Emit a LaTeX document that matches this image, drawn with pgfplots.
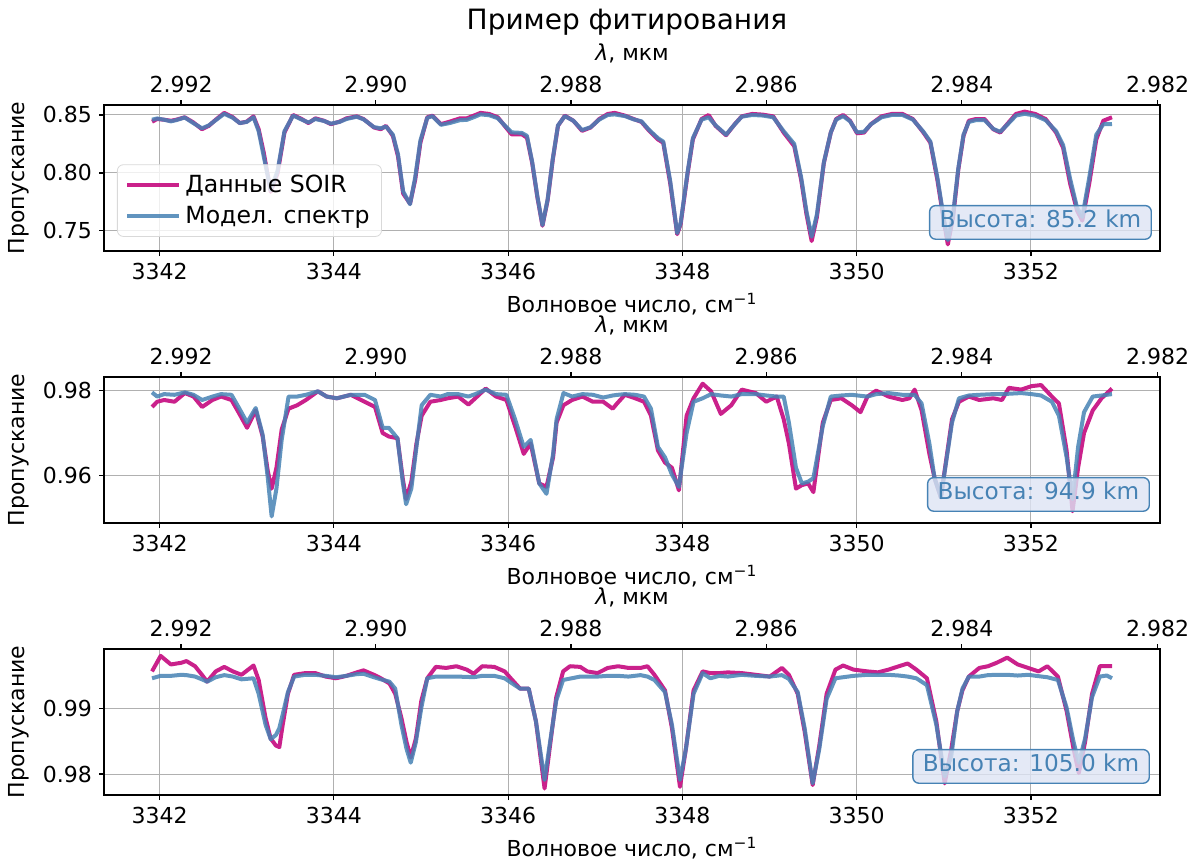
\documentclass[border=0pt]{standalone}
\usepackage{fontspec}
\setmainfont{DejaVu Sans}
\usepackage{pgfplots}
\usepackage{pgfplotstable}
\pgfplotsset{compat=1.18}
\definecolor{dataC}{HTML}{C71585}
\definecolor{modelC}{HTML}{4682B4}
\definecolor{boxfill}{HTML}{DDE4F4}
\definecolor{gridC}{RGB}{176,176,176}

\pgfplotstableread{
nu d m
3341.913 0.8442 0.8459
3341.972 0.8465 0.8470
3342.051 0.8459 0.8459
3342.130 0.8450 0.8445
3342.190 0.8459 0.8455
3342.288 0.8480 0.8478
3342.387 0.8436 0.8430
3342.486 0.8377 0.8385
3342.565 0.8406 0.8410
3342.644 0.8459 0.8455
3342.742 0.8518 0.8510
3342.841 0.8480 0.8475
3342.920 0.8430 0.8430
3342.999 0.8442 0.8440
3343.078 0.8488 0.8480
3343.137 0.8377 0.8360
3343.196 0.8173 0.8140
3343.275 0.7837 0.7850
3343.354 0.7997 0.8020
3343.433 0.8348 0.8360
3343.532 0.8500 0.8495
3343.631 0.8465 0.8460
3343.709 0.8430 0.8435
3343.788 0.8471 0.8465
3343.887 0.8450 0.8448
3343.966 0.8421 0.8425
3344.065 0.8442 0.8440
3344.144 0.8471 0.8465
3344.262 0.8488 0.8485
3344.341 0.8465 0.8462
3344.460 0.8392 0.8395
3344.539 0.8377 0.8385
3344.598 0.8406 0.8400
3344.677 0.8319 0.8330
3344.736 0.8143 0.8160
3344.795 0.7822 0.7840
3344.874 0.7734 0.7730
3344.933 0.7939 0.7960
3344.993 0.8260 0.8280
3345.072 0.8480 0.8475
3345.131 0.8494 0.8490
3345.229 0.8421 0.8415
3345.328 0.8442 0.8430
3345.447 0.8471 0.8455
3345.526 0.8471 0.8458
3345.604 0.8494 0.8480
3345.683 0.8518 0.8505
3345.782 0.8509 0.8498
3345.881 0.8480 0.8472
3345.960 0.8406 0.8410
3346.039 0.8333 0.8350
3346.157 0.8333 0.8345
3346.216 0.8304 0.8320
3346.276 0.8085 0.8095
3346.335 0.7792 0.7800
3346.394 0.7544 0.7550
3346.453 0.7763 0.7770
3346.512 0.8114 0.8120
3346.572 0.8406 0.8410
3346.651 0.8494 0.8490
3346.749 0.8450 0.8450
3346.848 0.8363 0.8370
3346.947 0.8392 0.8395
3347.045 0.8465 0.8460
3347.144 0.8509 0.8500
3347.223 0.8518 0.8505
3347.342 0.8494 0.8490
3347.440 0.8465 0.8462
3347.530 0.8440 0.8445
3347.619 0.8363 0.8370
3347.719 0.8289 0.8300
3347.780 0.8260 0.8270
3347.860 0.7909 0.7930
3347.940 0.7471 0.7480
3347.980 0.7558 0.7570
3348.060 0.7997 0.8010
3348.120 0.8289 0.8300
3348.220 0.8465 0.8460
3348.301 0.8500 0.8480
3348.381 0.8406 0.8410
3348.501 0.8325 0.8330
3348.601 0.8421 0.8420
3348.681 0.8488 0.8485
3348.802 0.8509 0.8500
3348.922 0.8503 0.8495
3349.042 0.8488 0.8480
3349.162 0.8348 0.8360
3349.283 0.8231 0.8250
3349.363 0.7939 0.7960
3349.423 0.7646 0.7670
3349.483 0.7412 0.7450
3349.543 0.7617 0.7640
3349.623 0.8085 0.8090
3349.703 0.8348 0.8350
3349.764 0.8465 0.8460
3349.844 0.8500 0.8490
3349.924 0.8450 0.8445
3350.004 0.8342 0.8350
3350.084 0.8348 0.8355
3350.164 0.8421 0.8420
3350.285 0.8488 0.8480
3350.405 0.8509 0.8500
3350.525 0.8509 0.8500
3350.645 0.8465 0.8460
3350.766 0.8348 0.8355
3350.846 0.8260 0.8270
3350.926 0.7939 0.7960
3351.006 0.7558 0.7580
3351.046 0.7383 0.7420
3351.106 0.7617 0.7640
3351.166 0.8026 0.8040
3351.226 0.8319 0.8330
3351.287 0.8450 0.8440
3351.367 0.8465 0.8455
3351.467 0.8465 0.8455
3351.567 0.8377 0.8380
3351.647 0.8348 0.8355
3351.727 0.8421 0.8415
3351.828 0.8509 0.8495
3351.928 0.8529 0.8510
3352.048 0.8509 0.8495
3352.168 0.8465 0.8455
3352.289 0.8348 0.8360
3352.369 0.8216 0.8240
3352.449 0.7909 0.7950
3352.529 0.7675 0.7700
3352.589 0.7588 0.7620
3352.669 0.7909 0.7960
3352.750 0.8289 0.8330
3352.830 0.8450 0.8420
3352.930 0.8480 0.8421
}\panelA

\pgfplotstableread{
nu d m
3341.913 0.97616 0.97959
3341.972 0.97739 0.97861
3342.052 0.97780 0.97918
3342.171 0.97739 0.97902
3342.290 0.97943 0.97959
3342.389 0.97861 0.97902
3342.488 0.97616 0.97780
3342.607 0.97780 0.97861
3342.706 0.97861 0.97918
3342.825 0.97780 0.97902
3342.905 0.97494 0.97616
3343.004 0.97127 0.97249
3343.103 0.97535 0.97592
3343.183 0.96922 0.96963
3343.242 0.96106 0.95943
3343.286 0.95698 0.95045
3343.341 0.96188 0.95698
3343.401 0.97086 0.96841
3343.480 0.97576 0.97861
3343.579 0.97657 0.97861
3343.679 0.97780 0.97902
3343.817 0.97984 0.97984
3343.917 0.97861 0.97861
3344.036 0.97820 0.97820
3344.194 0.97902 0.97902
3344.353 0.97739 0.97902
3344.472 0.97616 0.97780
3344.560 0.97004 0.97127
3344.631 0.96922 0.97127
3344.730 0.96882 0.96882
3344.790 0.95943 0.95861
3344.829 0.95453 0.95331
3344.889 0.95861 0.95698
3344.948 0.96759 0.96678
3345.008 0.97412 0.97657
3345.107 0.97739 0.97902
3345.226 0.97780 0.97861
3345.306 0.97820 0.97918
3345.425 0.97861 0.97918
3345.544 0.97673 0.97861
3345.623 0.97820 0.97918
3345.742 0.98049 0.98024
3345.861 0.97861 0.97918
3345.980 0.97780 0.97902
3346.079 0.97167 0.97331
3346.179 0.96514 0.96678
3346.258 0.96759 0.96841
3346.357 0.95820 0.95820
3346.440 0.95739 0.95576
3346.516 0.96433 0.96514
3346.556 0.97249 0.97331
3346.635 0.97657 0.97943
3346.734 0.97780 0.97861
3346.853 0.97861 0.97918
3346.972 0.97739 0.97902
3347.091 0.97739 0.97837
3347.200 0.97576 0.97886
3347.250 0.97698 0.97900
3347.340 0.97902 0.97918
3347.458 0.97820 0.97902
3347.559 0.97739 0.97861
3347.639 0.97412 0.97576
3347.719 0.96596 0.96678
3347.800 0.96310 0.96433
3347.880 0.96188 0.96025
3347.960 0.95657 0.95739
3348.048 0.97412 0.97004
3348.128 0.97820 0.97739
3348.232 0.98163 0.97820
3348.329 0.97984 0.97918
3348.441 0.97453 0.97886
3348.561 0.97657 0.97861
3348.681 0.98024 0.97918
3348.842 0.97943 0.97918
3348.962 0.97739 0.97886
3349.082 0.97861 0.97861
3349.162 0.97331 0.97861
3349.222 0.96759 0.97249
3349.303 0.95698 0.96188
3349.371 0.95780 0.95820
3349.443 0.95820 0.95861
3349.503 0.95616 0.95943
3349.611 0.97249 0.97167
3349.703 0.97780 0.97861
3349.824 0.97820 0.97886
3349.944 0.97657 0.97902
3350.044 0.97494 0.97878
3350.124 0.97861 0.97861
3350.224 0.98000 0.97918
3350.365 0.97861 0.97943
3350.525 0.97780 0.97902
3350.605 0.97820 0.97902
3350.665 0.98024 0.97902
3350.745 0.97535 0.97698
3350.834 0.96514 0.96759
3350.894 0.95943 0.95943
3350.966 0.95494 0.95494
3351.094 0.97331 0.97249
3351.174 0.97739 0.97820
3351.287 0.97861 0.97886
3351.407 0.97780 0.97902
3351.567 0.97820 0.97918
3351.667 0.97780 0.97918
3351.747 0.98065 0.97927
3351.888 0.98024 0.97943
3352.008 0.98106 0.97918
3352.116 0.98131 0.97886
3352.240 0.97861 0.97739
3352.321 0.97698 0.97412
3352.409 0.96596 0.96433
3352.477 0.95167 0.95453
3352.541 0.96188 0.96678
3352.609 0.97004 0.97494
3352.709 0.97535 0.97861
3352.810 0.97820 0.97886
3352.930 0.98049 0.97918
}\panelB

\pgfplotstableread{
nu d m
3341.913 0.99568 0.99463
3342.012 0.99805 0.99500
3342.130 0.99674 0.99500
3342.249 0.99700 0.99516
3342.308 0.99726 0.99511
3342.407 0.99647 0.99489
3342.486 0.99516 0.99447
3342.545 0.99411 0.99411
3342.644 0.99568 0.99479
3342.742 0.99637 0.99511
3342.841 0.99568 0.99489
3342.940 0.99516 0.99447
3343.078 0.99658 0.99463
3343.137 0.99437 0.99226
3343.216 0.98858 0.98753
3343.275 0.98542 0.98532
3343.334 0.98437 0.98595
3343.374 0.98411 0.98700
3343.413 0.98753 0.98911
3343.473 0.99226 0.99253
3343.544 0.99516 0.99489
3343.670 0.99542 0.99516
3343.788 0.99542 0.99516
3343.907 0.99489 0.99500
3344.025 0.99463 0.99479
3344.144 0.99500 0.99500
3344.262 0.99553 0.99526
3344.341 0.99584 0.99532
3344.460 0.99516 0.99479
3344.539 0.99463 0.99447
3344.638 0.99384 0.99411
3344.704 0.99226 0.99305
3344.775 0.98858 0.98753
3344.834 0.98489 0.98384
3344.882 0.98253 0.98174
3344.941 0.98542 0.98489
3345.004 0.99121 0.99016
3345.072 0.99463 0.99463
3345.170 0.99637 0.99489
3345.289 0.99621 0.99489
3345.407 0.99647 0.99489
3345.526 0.99595 0.99484
3345.604 0.99532 0.99479
3345.703 0.99647 0.99500
3345.841 0.99637 0.99500
3345.960 0.99568 0.99463
3346.047 0.99437 0.99384
3346.137 0.99305 0.99305
3346.236 0.99305 0.99305
3346.319 0.98805 0.98805
3346.418 0.97779 0.97911
3346.481 0.98437 0.98489
3346.552 0.99174 0.99121
3346.631 0.99568 0.99437
3346.710 0.99647 0.99458
3346.828 0.99637 0.99489
3346.907 0.99568 0.99489
3347.026 0.99542 0.99489
3347.144 0.99621 0.99500
3347.263 0.99647 0.99500
3347.381 0.99621 0.99489
3347.519 0.99621 0.99511
3347.599 0.99647 0.99489
3347.679 0.99516 0.99437
3347.800 0.99279 0.99253
3347.880 0.98700 0.98753
3347.972 0.97805 0.97911
3348.040 0.98384 0.98384
3348.128 0.99279 0.99226
3348.232 0.99568 0.99542
3348.321 0.99542 0.99463
3348.421 0.99542 0.99500
3348.521 0.99553 0.99489
3348.681 0.99542 0.99516
3348.842 0.99516 0.99500
3349.002 0.99489 0.99489
3349.142 0.99621 0.99511
3349.222 0.99516 0.99453
3349.323 0.99226 0.99253
3349.403 0.98647 0.98700
3349.495 0.97832 0.97858
3349.571 0.98437 0.98384
3349.655 0.99226 0.99147
3349.756 0.99595 0.99463
3349.844 0.99658 0.99479
3349.964 0.99595 0.99500
3350.124 0.99568 0.99516
3350.244 0.99553 0.99516
3350.365 0.99595 0.99516
3350.485 0.99647 0.99505
3350.585 0.99689 0.99489
3350.685 0.99595 0.99463
3350.806 0.99463 0.99358
3350.914 0.98805 0.98753
3351.010 0.97858 0.97963
3351.086 0.98384 0.98279
3351.154 0.98963 0.98963
3351.214 0.99279 0.99305
3351.287 0.99489 0.99489
3351.407 0.99621 0.99489
3351.507 0.99647 0.99511
3351.607 0.99700 0.99516
3351.727 0.99779 0.99516
3351.848 0.99674 0.99505
3351.968 0.99621 0.99516
3352.088 0.99568 0.99495
3352.188 0.99647 0.99479
3352.309 0.99489 0.99437
3352.409 0.98963 0.99016
3352.489 0.98384 0.98489
3352.549 0.98016 0.98174
3352.621 0.98489 0.98542
3352.701 0.99226 0.99174
3352.790 0.99647 0.99489
3352.870 0.99647 0.99505
3352.930 0.99647 0.99463
}\panelC

\pgfplotsset{
  base/.style={
    scale only axis, width=528pt, height=73pt,
    xmin=3341.362, xmax=3353.481,
    tick align=outside,
    major tick length=2.5pt,
    axis line style={line width=0.7pt},
    every tick/.style={black, line width=0.6pt},
    tick label style={font=\fontsize{11}{13}\selectfont},
    label style={font=\fontsize{11}{13}\selectfont},
  },
  main/.style={
    base,
    xtick={3342,3344,3346,3348,3350,3352},
    xticklabels={3342,3344,3346,3348,3350,3352},
    xtick pos=bottom, ytick pos=left,
    grid=major,
    grid style={gridC, line width=0.5pt},
    xlabel={Волновое число, см\textsuperscript{−1}},
    ylabel={Пропускание},
    clip=true,
  },
  top/.style={
    base,
    axis x line*=top, axis y line=none,
    ymin=0, ymax=1,
    xtick={3342.2460,3344.4816,3346.7202,3348.9618,3351.2064,3353.4541},
    xticklabels={2.992,2.990,2.988,2.986,2.984,2.982},
    xlabel={\textit{λ}, мкм},
  },
  dline/.style={dataC, line width=2pt, opacity=0.95, line join=round},
  mline/.style={modelC, line width=2pt, opacity=0.85, line join=round},
}
\tikzset{hbox/.style={anchor=south east, draw=modelC, line width=0.7pt, fill=boxfill, fill opacity=0.8, text opacity=1, text=modelC, rounded corners=3pt, font=\fontsize{11.6}{13}\selectfont, inner xsep=5pt, inner ysep=3.5pt, text height=0.76em, text depth=0.22em}}

\begin{document}
\begin{tikzpicture}
\path[use as bounding box] (0,0) rectangle (596.5pt,-431.5pt);
\node[font=\fontsize{14}{17}\selectfont] at (313.5pt,-11pt) {Пример фитирования};

% Panel 1
\begin{axis}[main, at={(52pt,-52.5pt)}, anchor=north west,
  ymin=0.7326, ymax=0.8586,
  ytick={0.75,0.80,0.85}, yticklabels={0.75,0.80,0.85},
  legend style={at={(rel axis cs:0.0123,0.097)}, anchor=south west, draw=black!15, rounded corners=3pt, fill=white, fill opacity=0.8, text opacity=1, font=\fontsize{11.8}{13}\selectfont, inner xsep=4pt, inner ysep=3pt, row sep=1.5pt},
  legend cell align=left,
  legend image code/.code={\draw[#1] (0pt,0pt) -- (26pt,0pt);},
]
\addplot[dline] table[x=nu,y=d] {\panelA};
\addlegendentry{Данные SOIR}
\addplot[mline] table[x=nu,y=m] {\panelA};
\addlegendentry{Модел. спектр}
\node[hbox] at (rel axis cs:0.9924,0.076) {Высота: 85.2 km};
\end{axis}
\begin{axis}[top, at={(52pt,-52.5pt)}, anchor=north west]
\end{axis}

% Panel 2
\begin{axis}[main, at={(52pt,-188.5pt)}, anchor=north west,
  ymin=0.9489, ymax=0.9832,
  ytick={0.96,0.98}, yticklabels={0.96,0.98},
]
\addplot[dline] table[x=nu,y=d] {\panelB};
\addplot[mline] table[x=nu,y=m] {\panelB};
\node[hbox] at (rel axis cs:0.9905,0.076) {Высота: 94.9 km};
\end{axis}
\begin{axis}[top, at={(52pt,-188.5pt)}, anchor=north west]
\end{axis}

% Panel 3
\begin{axis}[main, at={(52pt,-324.5pt)}, anchor=north west,
  ymin=0.9768, ymax=0.9991,
  ytick={0.98,0.99}, yticklabels={0.98,0.99},
]
\addplot[dline] table[x=nu,y=d] {\panelC};
\addplot[mline] table[x=nu,y=m] {\panelC};
\node[hbox] at (rel axis cs:0.9905,0.076) {Высота: 105.0 km};
\end{axis}
\begin{axis}[top, at={(52pt,-324.5pt)}, anchor=north west]
\end{axis}
\end{tikzpicture}
\end{document}
